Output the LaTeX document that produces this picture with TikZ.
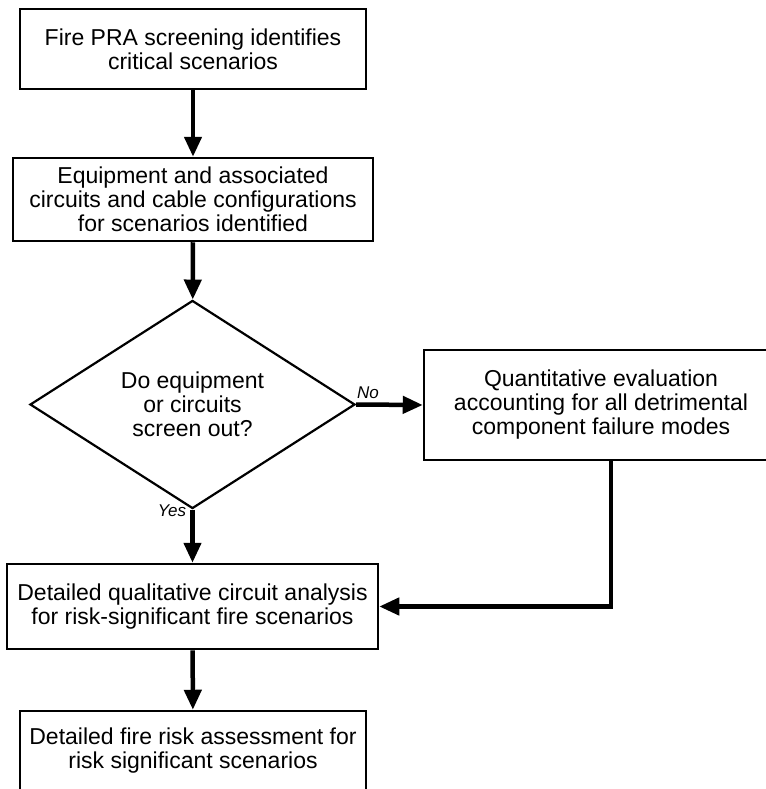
\documentclass[tikz,border=0pt]{standalone}
\usepackage{fontspec}
\setmainfont{Liberation Sans}
\usetikzlibrary{arrows.meta,shapes.geometric}
\begin{document}
\begin{tikzpicture}[x=1pt,y=-1pt,
  box/.style={draw,line width=2.5pt,rectangle,align=center,inner sep=0pt,
    font=\fontsize{23}{24}\selectfont},
  dec/.style={draw,line width=2.2pt,diamond,align=center,inner sep=0pt,
    minimum width=325pt,minimum height=193pt,font=\fontsize{23}{24}\selectfont},
  arr/.style={line width=4.5pt,-{Triangle[length=20pt,width=17pt]}},
  lbl/.style={font=\fontsize{17}{18}\selectfont\itshape,inner sep=0pt}]
\useasboundingbox (0,0) rectangle (765,789);
\node[box,minimum width=346pt,minimum height=80pt] (b1) at (193,49)
  {Fire PRA screening identifies\\critical scenarios};
\node[box,minimum width=360pt,minimum height=83pt] (b2) at (193,199.5)
  {Equipment and associated\\circuits and cable configurations\\for scenarios identified};
\node[dec] (d) at (192.5,404.5) {Do equipment\\or circuits\\screen out?};
\node[box,minimum width=354pt,minimum height=110pt] (b3) at (601,405)
  {Quantitative evaluation\\accounting for all detrimental\\component failure modes};
\node[box,minimum width=371pt,minimum height=85pt] (b4) at (192.5,606.5)
  {Detailed qualitative circuit analysis\\for risk-significant fire scenarios};
\node[box,minimum width=346pt,minimum height=80pt] (b5) at (193,751)
  {Detailed fire risk assessment for\\risk significant scenarios};
\draw[arr] (b1) -- (b2);
\draw[arr] (b2) -- (d);
\draw[arr] (d.east) -- (b3.west);
\draw[arr] (d.south) -- (b4.north);
\draw[arr] (b4) -- (b5);
\draw[arr] ([xshift=10pt]b3.south) |- (b4.east);
\node[lbl] (no) at (368,393) {No};
\node[lbl] (yes) at (172,511) {Yes};
\end{tikzpicture}
\end{document}
